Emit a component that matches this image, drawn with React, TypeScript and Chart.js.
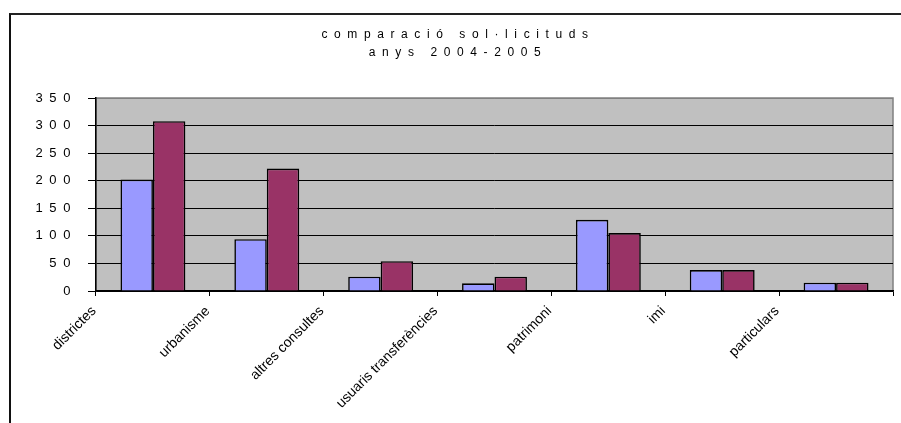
import React, { useEffect, useRef } from "react";
import { Chart, registerables } from "chart.js";

Chart.register(...registerables);

const categories = [
  "districtes",
  "urbanisme",
  "altres consultes",
  "usuaris transferències",
  "patrimoni",
  "imi",
  "particulars",
];
const series2004 = [202, 94, 26, 14, 129, 38, 15];
const series2005 = [308, 222, 54, 26, 105, 38, 15];
const titleLines = ["comparació sol·licituds", "anys 2004-2005"];
const yMax = 350;
const yStep = 50;

const FONT = "'Liberation Sans', Arial, sans-serif";

const plotBg = {
  id: "plotBg",
  beforeDraw(chart: any) {
    const { ctx, chartArea } = chart;
    ctx.save();
    ctx.fillStyle = "#C0C0C0";
    ctx.fillRect(chartArea.left, chartArea.top, chartArea.right - chartArea.left, chartArea.bottom - chartArea.top);
    ctx.strokeStyle = "#808080";
    ctx.lineWidth = 1.5;
    ctx.strokeRect(chartArea.left, chartArea.top, chartArea.right - chartArea.left, chartArea.bottom - chartArea.top);
    ctx.restore();
    (ctx as any).letterSpacing = "6.6px";
  },
  afterDatasetsDraw(chart: any) {
    (chart.ctx as any).letterSpacing = "0px";
  },
  afterDraw(chart: any) {
    (chart.ctx as any).letterSpacing = "0px";
  },
};

export default function App() {
  const ref = useRef<HTMLCanvasElement | null>(null);
  useEffect(() => {
    if (!ref.current) return;
    const chart = new Chart(ref.current, {
      type: "bar",
      data: {
        labels: categories,
        datasets: [
          {
            label: "2004",
            data: series2004,
            backgroundColor: "#9999FF",
            borderColor: "#000000",
            borderWidth: 1.6,
            categoryPercentage: 0.57,
            barPercentage: 1,
          },
          {
            label: "2005",
            data: series2005,
            backgroundColor: "#993366",
            borderColor: "#000000",
            borderWidth: 1.6,
            categoryPercentage: 0.57,
            barPercentage: 1,
          },
        ],
      },
      options: {
        animation: false,
        responsive: true,
        maintainAspectRatio: false,
        devicePixelRatio: 1,
        layout: { padding: { left: 23, right: 8, top: 0, bottom: 0 } },
        plugins: {
          legend: { display: false },
          tooltip: { enabled: false },
          title: {
            display: true,
            text: titleLines,
            color: "#000",
            font: { family: FONT, size: 12, weight: "normal", lineHeight: 18 / 12 },
            padding: { top: 26, bottom: 36 },
          },
        },
        scales: {
          x: {
            offset: true,
            afterFit: (scale: any) => {
              scale.height = 132;
            },
            grid: {
              offset: true,
              drawOnChartArea: false,
              drawTicks: true,
              tickLength: 5,
              color: "#000",
              lineWidth: 1,
            },
            border: { color: "#000", width: 1.5 },
            ticks: {
              z: 1,
              autoSkip: false,
              minRotation: 45,
              maxRotation: 45,
              labelOffset: -59,
              padding: 7,
              color: "#000",
              font: { family: FONT, size: 14 },
            },
          },
          y: {
            min: 0,
            max: yMax,
            afterFit: (scale: any) => {
              scale.width = 73;
            },
            grid: {
              color: (c: any) => (c.tick && c.tick.value === yMax ? "#808080" : "#000"),
              tickColor: "#000",
              lineWidth: 1,
              tickLength: 8,
            },
            border: { color: "#000", width: 1.5 },
            ticks: {
              stepSize: yStep,
              padding: 11,
              color: "#000",
              font: { family: FONT, size: 13 },
            },
          },
        },
      },
      plugins: [plotBg],
    });
    return () => chart.destroy();
  }, []);

  return (
    <div style={{ position: "fixed", left: 0, top: 0, width: 901, height: 423, background: "#fff" }}>
      <canvas ref={ref} style={{ position: "absolute", left: 0, top: 0 }} />
      <div
        style={{
          position: "absolute",
          left: 9,
          top: 13,
          width: 900,
          height: 420,
          borderLeft: "2px solid #111",
          borderTop: "2px solid #222",
          pointerEvents: "none",
        }}
      />
    </div>
  );
}
